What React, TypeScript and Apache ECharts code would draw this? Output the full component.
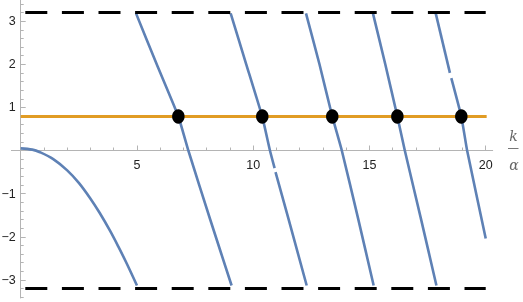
import React, { useEffect, useRef } from "react";
import * as echarts from "echarts";

// Blue branches (x = k/α, y)
const branch1 = [[0, 0.05], [0.5, 0.02], [0.83, -0.04], [1.4, -0.2], [2.0, -0.46], [2.5, -0.75], [2.98, -1.1], [3.4, -1.45], [3.84, -1.86], [4.2, -2.23], [4.56, -2.62], [5.0, -3.13]];
const branch2 = [[4.96, 3.18], [5.85, 2.0], [6.78, 0.79], [7.21, 0], [8.15, -1.6], [9.07, -3.13]];
const branch3a = [[9.03, 3.18], [9.7, 2.0], [10.39, 0.78], [10.72, 0], [10.92, -0.41]];
const branch3b = [[10.96, -0.5], [11.5, -1.55], [12.3, -3.13]];
const branch4 = [[12.27, 3.18], [12.85, 2.0], [13.4, 0.79], [13.81, 0], [14.5, -1.55], [15.18, -3.13]];
const branch5 = [[15.15, 3.18], [15.68, 2.0], [16.2, 0.79], [16.52, 0], [17.2, -1.55], [17.88, -3.13]];
const branch6a = [[17.85, 3.18], [18.46, 1.8]];
const branch6b = [[18.52, 1.68], [18.95, 0.79], [19.2, 0], [20.0, -2.04]];

const levelY = 0.79;
const levelX = [0, 20.04];
const dotX = [6.78, 10.39, 13.4, 16.2, 18.95];
const boundY = [3.2, -3.2];
const boundX = [0, 20];

const xMajor = [5, 10, 15, 20];
const xMinor = [1, 2, 3, 4, 6, 7, 8, 9, 11, 12, 13, 14, 16, 17, 18, 19];
const yMajor = [-3, -2, -1, 1, 2, 3];
const yMinor = [-3.4, -3.2, -2.8, -2.6, -2.4, -2.2, -1.8, -1.6, -1.4, -1.2, -0.8, -0.6, -0.4, -0.2, 0.2, 0.4, 0.6, 0.8, 1.2, 1.4, 1.6, 1.8, 2.2, 2.4, 2.6, 2.8, 3.2, 3.4];

const BLUE = "#5E81B5";
const ORANGE = "#E19C24";
const AXIS = "#b4b4b4";
const FONT = "'Liberation Sans', Arial, sans-serif";

export default function App() {
  const ref = useRef<HTMLDivElement>(null);
  useEffect(() => {
    if (!ref.current) return;
    const chart = echarts.init(ref.current, undefined, { renderer: "svg" });
    const xMin = -0.4, xMax = 20.3, yMin = -3.42, yMax = 3.49;
    const gridLeft = 11.4, gridTop = 0, gridW = 481.3, gridH = 298;
    // pixel offsets that put the axes through the origin
    const xOff = -(gridH * (0 - yMin) / (yMax - yMin));
    const yOff = -(gridW * (0 - xMin) / (xMax - xMin));
    const blue = (data: number[][], smooth: number) => ({
      type: "line",
      data,
      showSymbol: false,
      symbol: "none",
      smooth,
      lineStyle: { color: BLUE, width: 2.6 },
      z: 2,
    });
    const xBase = (extra: any) => ({
      type: "value", min: xMin, max: xMax, position: "bottom", offset: xOff,
      splitLine: { show: false }, ...extra,
    });
    const yBase = (extra: any) => ({
      type: "value", min: yMin, max: yMax, position: "left", offset: yOff,
      splitLine: { show: false }, ...extra,
    });
    const option: any = {
      animation: false,
      grid: { left: gridLeft, top: gridTop, width: gridW, height: gridH, outerBoundsMode: "none", containLabel: false },
      xAxis: [
        xBase({
          axisLine: { show: true, onZero: false, lineStyle: { color: AXIS, width: 1 } },
          axisTick: { show: true, inside: true, length: 5, customValues: xMajor, lineStyle: { color: AXIS } },
          axisLabel: { show: true, customValues: xMajor, margin: 8, color: "#222", fontSize: 12.5, fontFamily: FONT },
        }),
        xBase({
          axisLine: { show: false, onZero: false },
          axisTick: { show: true, inside: true, length: 3, customValues: xMinor, lineStyle: { color: AXIS } },
          axisLabel: { show: false },
        }),
      ],
      yAxis: [
        yBase({
          axisLine: { show: true, onZero: false, lineStyle: { color: AXIS, width: 1 } },
          axisTick: { show: true, inside: true, length: 5, customValues: yMajor, lineStyle: { color: AXIS } },
          axisLabel: {
            show: true, customValues: yMajor, margin: 5, color: "#222", fontSize: 12.5, fontFamily: FONT,
            formatter: (v: number) => String(v).replace("-", "\u2212"),
          },
        }),
        yBase({
          axisLine: { show: false, onZero: false },
          axisTick: { show: true, inside: true, length: 3, customValues: yMinor, lineStyle: { color: AXIS } },
          axisLabel: { show: false },
        }),
      ],
      series: [
        blue(branch1, 0.35), blue(branch2, 0.15), blue(branch3a, 0.15), blue(branch3b, 0), blue(branch4, 0.15),
        blue(branch5, 0.15), blue(branch6a, 0), blue(branch6b, 0.15),
        {
          type: "line", data: levelX.map((x) => [x, levelY]), symbol: "none", showSymbol: false,
          lineStyle: { color: ORANGE, width: 3 }, z: 3,
        },
        ...boundY.map((y) => ({
          type: "line", data: boundX.map((x) => [x, y]), symbol: "none", showSymbol: false,
          lineStyle: { color: "#000", width: 3, type: [22, 14.6], dashOffset: 31.6, cap: "butt" }, z: 4,
        })),
        {
          type: "scatter", data: dotX.map((x) => [x, levelY]), symbol: "circle", symbolSize: [12.5, 14.5],
          itemStyle: { color: "#000", opacity: 1 }, z: 5,
        },
      ],
      graphic: [
        { type: "text", x: 513.5, y: 136, style: { text: "k", fill: "#666", font: "italic 14px 'DejaVu Serif', serif", align: "center", verticalAlign: "middle" } },
        { type: "line", shape: { x1: 508, y1: 148.5, x2: 518.5, y2: 148.5 }, style: { stroke: "#777", lineWidth: 1 } },
        { type: "text", x: 514, y: 165, style: { text: "\u03b1", fill: "#666", font: "italic 14px 'DejaVu Serif', serif", align: "center", verticalAlign: "middle" } },
      ],
    };
    chart.setOption(option);
    return () => chart.dispose();
  }, []);
  return <div ref={ref} style={{ position: "fixed", left: 0, top: 0, width: 523, height: 302 }} />;
}
